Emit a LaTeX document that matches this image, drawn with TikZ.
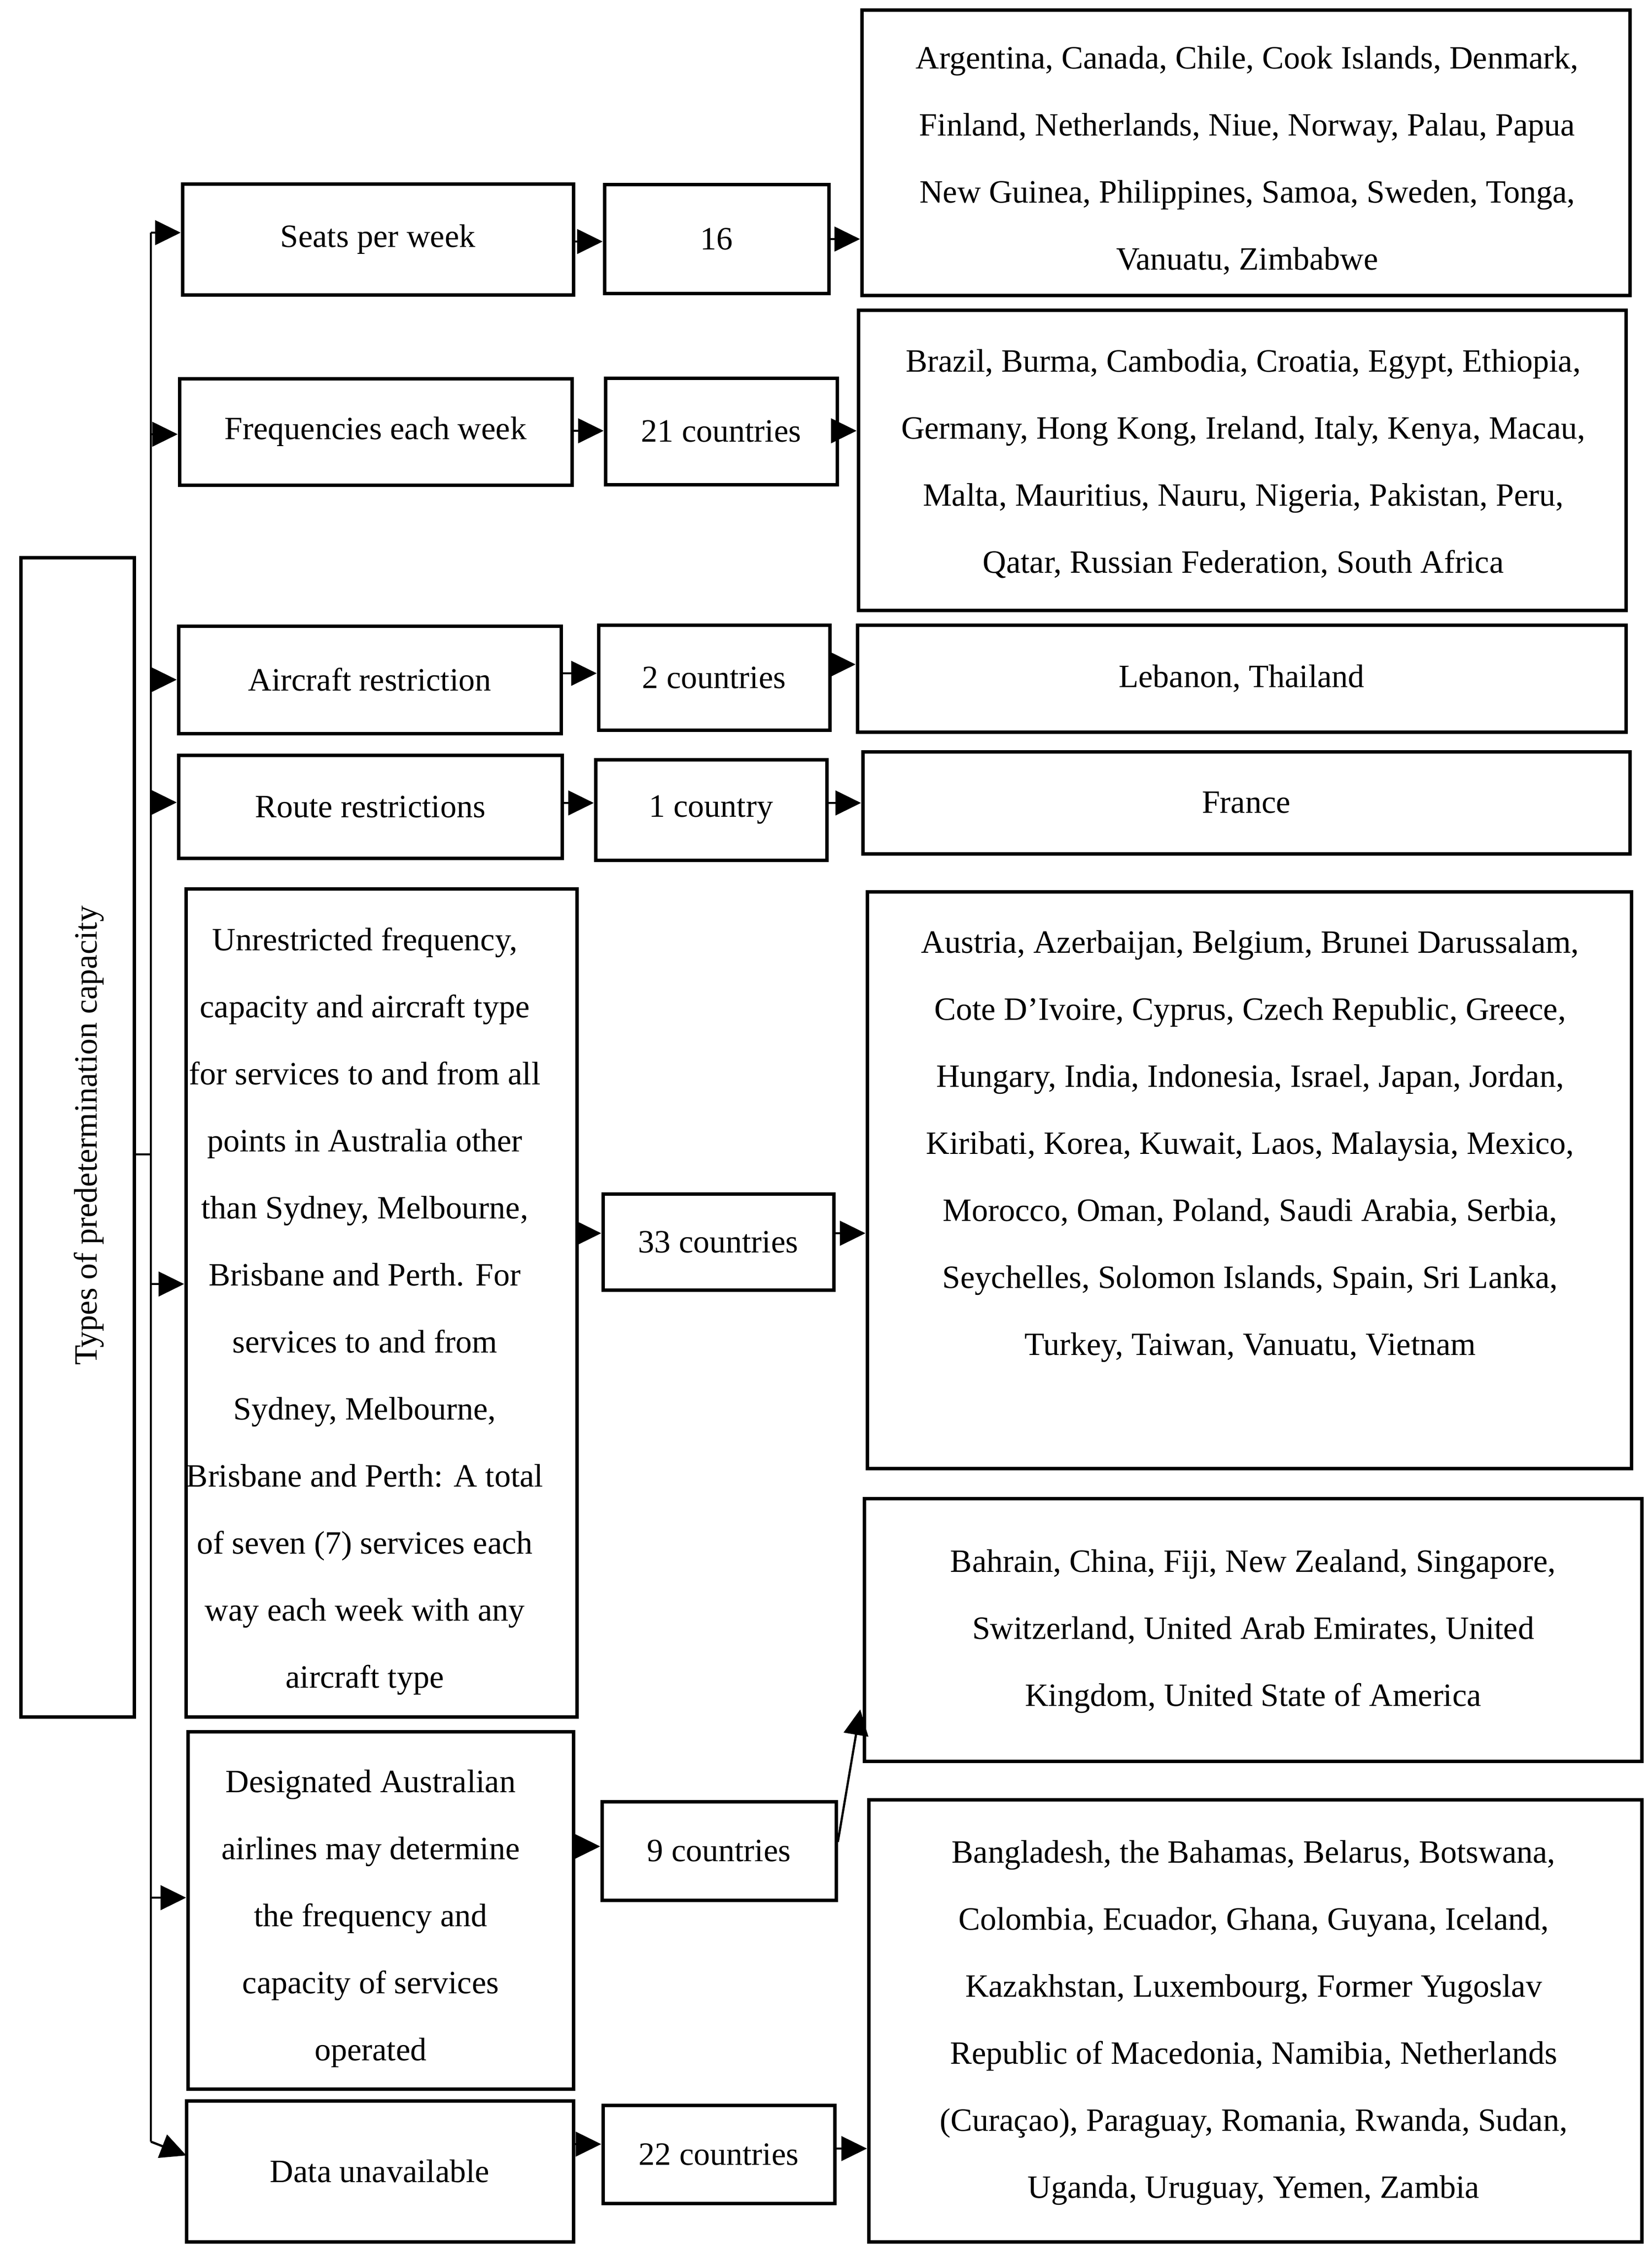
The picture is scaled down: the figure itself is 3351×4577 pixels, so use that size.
\documentclass[tikz,border=0pt]{standalone}
\usepackage{fontspec}
\setmainfont{Liberation Serif}
\usetikzlibrary{arrows.meta}
\tikzset{
  bx/.style={draw, line width=7pt, inner sep=0pt, align=center, font=\fontsize{66}{136}\selectfont},
  txt/.style={inner sep=0pt, align=center, font=\fontsize{66}{136}\selectfont},
  ln/.style={line width=4.5pt},
  arr/.style={line width=4.5pt, -{Triangle[length=52pt,width=50pt]}},
}
% name, x1, y1, x2, y2, text
\newcommand\BX[6]{\node[bx, minimum width={(#4-#2)*1pt}, minimum height={(#5-#3)*1pt}] (#1) at ({(#2+#4)/2},{(#3+#5)/2}) {#6};}
\begin{document}
\begin{tikzpicture}[x=1pt,y=-1pt]
\useasboundingbox (0,0) rectangle (3351,4577);
% main box
\BX{main}{42}{1131}{272}{3483}{}
\node[txt, rotate=90] (maint) at (180,2304) {Types of predetermination capacity};
% column 1
\BX{s1}{370}{373}{1163}{598}{Seats per week}
\BX{s2}{364}{768}{1160}{984}{Frequencies each week}
\BX{s3}{362}{1270}{1138}{1488}{Aircraft restriction}
\BX{s4}{362}{1532}{1140}{1741}{Route restrictions}
\BX{s5}{377}{1803}{1170}{3483}{}
\BX{s6}{381}{3513}{1163}{4238}{}
\BX{s7}{378}{4262}{1163}{4548}{Data unavailable}
\node[txt] (s5t) at (740,2660) {Unrestricted frequency,\\ capacity and aircraft type\\ for services to and from all\\ points in Australia other\\ than Sydney, Melbourne,\\ Brisbane and Perth. For\\ services to and from\\ Sydney, Melbourne,\\ Brisbane and Perth: A total\\ of seven (7) services each\\ way each week with any\\ aircraft type};
\node[txt] (s6t) at (752,3893) {Designated Australian\\ airlines may determine\\ the frequency and\\ capacity of services\\ operated};
% column 2
\BX{n1}{1226}{374}{1681}{595}{16}
\BX{n2}{1228}{767}{1698}{983}{21 countries}
\BX{n3}{1214}{1268}{1683}{1481}{2 countries}
\BX{n4}{1208}{1541}{1677}{1745}{1 country}
\BX{n5}{1223}{2422}{1691}{2617}{33 countries}
\BX{n6}{1221}{3655}{1696}{3855}{9 countries}
\BX{n7}{1223}{4271}{1693}{4470}{22 countries}
% column 3
\BX{l1}{1748}{20}{3306}{599}{}
\BX{l2}{1741}{629}{3298}{1238}{}
\BX{l3}{1739}{1268}{3298}{1485}{Lebanon, Thailand}
\BX{l4}{1750}{1525}{3306}{1732}{France}
\BX{l5}{1759}{1809}{3309}{2979}{}
\BX{l6}{1753}{3040}{3330}{3573}{}
\BX{l7}{1762}{3651}{3330}{4548}{}
\node[txt] (l1t) at (2530,326) {Argentina, Canada, Chile, Cook Islands, Denmark,\\ Finland, Netherlands, Niue, Norway, Palau, Papua\\ New Guinea, Philippines, Samoa, Sweden, Tonga,\\ Vanuatu, Zimbabwe};
\node[txt] (l2t) at (2522,941) {Brazil, Burma, Cambodia, Croatia, Egypt, Ethiopia,\\ Germany, Hong Kong, Ireland, Italy, Kenya, Macau,\\ Malta, Mauritius, Nauru, Nigeria, Pakistan, Peru,\\ Qatar, Russian Federation, South Africa};
\node[txt] (l5t) at (2536,2326) {Austria, Azerbaijan, Belgium, Brunei Darussalam,\\ Cote D’Ivoire, Cyprus, Czech Republic, Greece,\\ Hungary, India, Indonesia, Israel, Japan, Jordan,\\ Kiribati, Korea, Kuwait, Laos, Malaysia, Mexico,\\ Morocco, Oman, Poland, Saudi Arabia, Serbia,\\ Seychelles, Solomon Islands, Spain, Sri Lanka,\\ Turkey, Taiwan, Vanuatu, Vietnam};
\node[txt] (l6t) at (2542,3310) {Bahrain, China, Fiji, New Zealand, Singapore,\\ Switzerland, United Arab Emirates, United\\ Kingdom, United State of America};
\node[txt] (l7t) at (2543,4104) {Bangladesh, the Bahamas, Belarus, Botswana,\\ Colombia, Ecuador, Ghana, Guyana, Iceland,\\ Kazakhstan, Luxembourg, Former Yugoslav\\ Republic of Macedonia, Namibia, Netherlands\\ (Curaçao), Paraguay, Romania, Rwanda, Sudan,\\ Uganda, Uruguay, Yemen, Zambia};
% bus
\coordinate (bt) at (306,472);
\coordinate (bb) at (306,4345);
\coordinate (bj) at (306,2342);
\draw[ln] (bt) -- (bb);
\draw[ln] (main.east |- bj) -- (bj);
\coordinate (b2) at (306,881);
\coordinate (b3) at (306,1379);
\coordinate (b4) at (306,1628);
\coordinate (b5) at (306,2605);
\coordinate (b6) at (306,3850);
\coordinate (t7) at (378,4373);
\draw[arr] (bt) -- (bt -| s1.west);
\draw[arr] (b2) -- (b2 -| s2.west);
\draw[arr] (b3) -- (b3 -| s3.west);
\draw[arr] (b4) -- (b4 -| s4.west);
\draw[arr] (b5) -- (b5 -| s5.west);
\draw[arr] (b6) -- (b6 -| s6.west);
\draw[arr] (bb) -- (t7);
% column 1 -> column 2
\draw[arr] (s1.east |- 0,490) -- (n1.west |- 0,490);
\draw[arr] (s2.east |- 0,874) -- (n2.west |- 0,874);
\draw[arr] (s3.east |- 0,1366) -- (n3.west |- 0,1366);
\draw[arr] (s4.east |- 0,1629) -- (n4.west |- 0,1629);
\draw[arr] (s5.east |- 0,2502) -- (n5.west |- 0,2502);
\draw[arr] (s6.east |- 0,3746) -- (n6.west |- 0,3746);
\draw[arr] (s7.east |- 0,4350) -- (n7.west |- 0,4350);
% column 2 -> column 3
\draw[arr] (n1.east |- 0,485) -- (l1.west |- 0,485);
\draw[arr] (n2.east |- 0,874) -- (l2.west |- 0,874);
\draw[arr] (n3.east |- 0,1348) -- (l3.west |- 0,1348);
\draw[arr] (n4.east |- 0,1629) -- (l4.west |- 0,1629);
\draw[arr] (n5.east |- 0,2502) -- (l5.west |- 0,2502);
\coordinate (t6) at (1745,3468);
\draw[arr] (n6.east |- 0,3737) -- (t6);
\draw[arr] (n7.east |- 0,4359) -- (l7.west |- 0,4359);
\end{tikzpicture}
\end{document}
